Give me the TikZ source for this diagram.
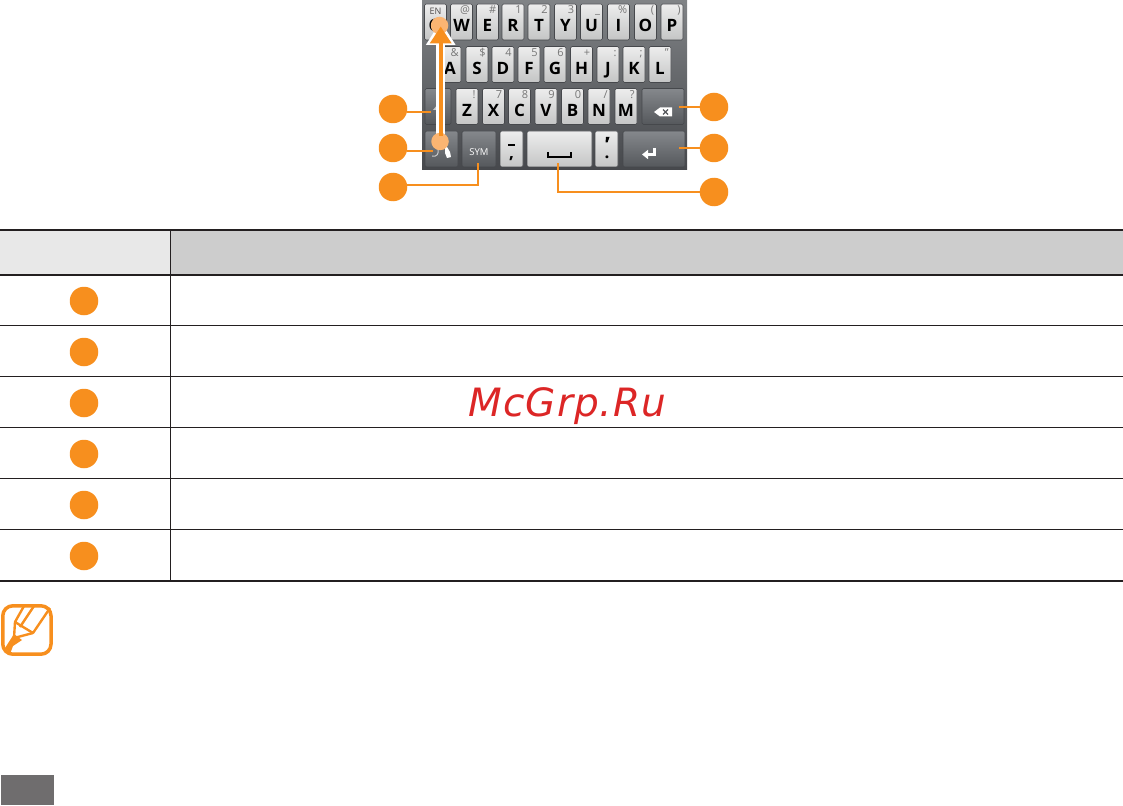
\documentclass[tikz,border=0pt]{standalone}
\usepackage{fontspec}
\setmainfont{Open Sans}
\newfontfamily\markfont[LetterSpace=2.5]{DejaVu Sans}
\usetikzlibrary{arrows.meta}
\definecolor{ORANGE}{HTML}{F78F1E}
\definecolor{PALE}{HTML}{FBB572}
\definecolor{RULE}{HTML}{231F20}
\definecolor{HEADA}{HTML}{E8E8E8}
\definecolor{HEADB}{HTML}{CDCDCD}
\definecolor{FOOT}{HTML}{6F6D6E}
\definecolor{RED}{HTML}{DC2626}
\definecolor{BOARDTOP}{HTML}{808386}
\definecolor{BOARDMID}{HTML}{5A5C60}
\definecolor{BOARDBOT}{HTML}{46484C}
\definecolor{KEYTOP}{HTML}{EDEDED}
\definecolor{KEYBOT}{HTML}{C4C5C5}
\definecolor{DARKTOP}{HTML}{85888C}
\definecolor{DARKBOT}{HTML}{55585C}
\definecolor{SUPGRAY}{HTML}{777777}
\definecolor{DIMWHITE}{HTML}{C8C9CA}
\tikzset{
    lightkey/.style={draw=BOARDBOT, line width=0.6pt, rounded corners=1.5pt, top color=KEYTOP, bottom color=KEYBOT,
        minimum width=22pt, minimum height=36pt, inner sep=0pt, text height=20pt, text depth=0pt,
        font=\bfseries\fontsize{17}{17}\selectfont, text=black},
    darkkey/.style={lightkey, top color=DARKTOP, bottom color=DARKBOT},
    keysup/.style={anchor=north east, inner sep=0pt, xshift=-2.5pt, yshift=-2pt, text height=8pt, text depth=0pt,
        font=\fontsize{11}{11}\selectfont, text=SUPGRAY},
    keymark/.style={inner sep=0pt, text=black},
    callout/.style={circle, fill=ORANGE, minimum size=28.5pt, inner sep=0pt},
    leader/.style={ORANGE, line width=2pt},
    touch/.style={circle, fill=PALE, minimum size=17.5pt, inner sep=0pt},
    tablerule/.style={RULE, line width=1.3pt},
}
\begin{document}
\begin{tikzpicture}[x=1pt, y=-1pt]
    \useasboundingbox (0,0) rectangle (1123,805);
    % keyboard
    \shade[top color=BOARDTOP, middle color=BOARDMID, bottom color=BOARDBOT] (422,0) rectangle (687,170);
    \node[lightkey] (keyQ) at (435.5,22) {Q};
    \node[lightkey, label={[keysup]north east:@}] (keyW) at (461.5,22) {W};
    \node[lightkey, label={[keysup]north east:\#}] (keyE) at (487.5,22) {E};
    \node[lightkey, label={[keysup]north east:1}] (keyR) at (513,22) {R};
    \node[lightkey, label={[keysup]north east:2}] (keyT) at (539,22) {T};
    \node[lightkey, label={[keysup]north east:3}] (keyY) at (565.5,22) {Y};
    \node[lightkey, label={[keysup]north east:\_}] (keyU) at (591.5,22) {U};
    \node[lightkey, label={[keysup]north east:\%}] (keyI) at (618.5,22) {I};
    \node[lightkey, label={[keysup]north east:(}] (keyO) at (645.5,22) {O};
    \node[lightkey, label={[keysup]north east:)}] (keyP) at (672,22) {P};
    \node[lightkey, label={[keysup]north east:\&}] (keyA) at (450,64.5) {A};
    \node[lightkey, label={[keysup]north east:\$}] (keyS) at (477,64.5) {S};
    \node[lightkey, label={[keysup]north east:4}] (keyD) at (503,64.5) {D};
    \node[lightkey, label={[keysup]north east:5}] (keyF) at (529,64.5) {F};
    \node[lightkey, label={[keysup]north east:6}] (keyG) at (555,64.5) {G};
    \node[lightkey, label={[keysup]north east:+}] (keyH) at (581.5,64.5) {H};
    \node[lightkey, label={[keysup]north east:{:}}] (keyJ) at (608,64.5) {J};
    \node[lightkey, label={[keysup]north east:;}] (keyK) at (634,64.5) {K};
    \node[lightkey, label={[keysup]north east:"}] (keyL) at (660,64.5) {L};
    \node[darkkey, minimum width=26pt] (keyShift) at (438,106.5) {};
    \node[lightkey, label={[keysup]north east:!}] (keyZ) at (467,106.5) {Z};
    \node[lightkey, label={[keysup]north east:7}] (keyX) at (493.5,106.5) {X};
    \node[lightkey, label={[keysup]north east:8}] (keyC) at (519.5,106.5) {C};
    \node[lightkey, label={[keysup]north east:9}] (keyV) at (546,106.5) {V};
    \node[lightkey, label={[keysup]north east:0}] (keyB) at (572.5,106.5) {B};
    \node[lightkey, label={[keysup]north east:/}] (keyN) at (599,106.5) {N};
    \node[lightkey, label={[keysup]north east:?}] (keyM) at (626,106.5) {M};
    \node[darkkey, minimum width=42pt] (keyBack) at (663,106.5) {};
    \node[darkkey, minimum width=33pt] (keyMic) at (441.5,149) {};
    \node[darkkey, minimum width=34pt, text=white, font=\fontsize{9.5}{10}\selectfont, text height=14pt] (keySym) at (479,149) {SYM};
    \node[lightkey, minimum width=23pt] (keySemi) at (511.5,149) {};
    \node[lightkey, minimum width=65pt] (keySpace) at (559.5,149) {};
    \node[lightkey, minimum width=23pt] (keyQuote) at (606.5,149) {};
    \node[darkkey, minimum width=62pt] (keyEnter) at (654,149) {};
    \node[inner sep=0pt, font=\fontsize{9}{9}\selectfont, text=RULE!80] (labelEN) at (435.5,11) {EN};
    \fill[black] (508,144) rectangle (515,146.5);
    \node[keymark, font=\bfseries\fontsize{17}{17}\selectfont] (semiTail) at (511.5,159) {,};
    \fill[black] (606,137) -- (609.5,137) -- (607.5,142.5) -- (605.5,142.5) -- cycle;
    \node[keymark, font=\bfseries\fontsize{17}{17}\selectfont] (quoteDot) at (607,157) {.};
    \draw[black, line width=2pt] (548,152) -- (548,157.5) -- (571,157.5) -- (571,152);
    \fill[white] (654,112) -- (660,107.5) -- (672,107.5) -- (672,116.5) -- (660,116.5) -- cycle;
    \draw[DARKBOT, line width=1.2pt] (663,109.5) -- (668,114.5) (668,109.5) -- (663,114.5);
    \draw[white, line width=3pt, -{Triangle[length=6pt, width=9pt]}] (654,148) -- (654,154.5) -- (642,154.5);
    \fill[DIMWHITE] (438,104) -- (443,110) -- (433,110) -- cycle;
    \draw[DIMWHITE, line width=1pt] (438,149) .. controls (439,154) and (437,157) .. (432,156);
    \fill[white] (445,147) -- (447,147) -- (450,152) -- (451,157) -- (447,158) -- (445,153) -- cycle;
    % leaders
    \node[callout] (numA) at (393,109) {};
    \node[callout] (numB) at (393,148) {};
    \node[callout] (numC) at (393,187) {};
    \node[callout] (numD) at (714,107) {};
    \node[callout] (numE) at (714,148) {};
    \node[callout] (numF) at (714,192) {};
    \coordinate (endA) at (431,112.5);
    \coordinate (endB) at (433,151);
    \coordinate (endC) at (477.5,163);
    \coordinate (endD) at (679,107);
    \coordinate (endE) at (679,148);
    \coordinate (endF) at (558,163);
    \draw[leader] (numA.east |- endA) -- (endA);
    \draw[leader] (numB.east |- endB) -- (endB);
    \draw[leader] (numC.east |- 0,185) -- (477.5,185) -- (endC);
    \draw[leader] (numD) -- (endD);
    \draw[leader] (numE) -- (endE);
    \draw[leader] (numF) -- (558,192) -- (endF);
    % swipe
    \coordinate (swipeLow) at (440.7,136);
    \coordinate (swipeHigh) at (440.7,21);
    \draw[white, line width=8.5pt, -{Triangle[length=24pt, width=28pt]}] (swipeLow) -- (swipeHigh);
    \node[touch] (touchHigh) at (439.5,25.5) {};
    \node[touch] (touchLow) at (440,141.5) {};
    \draw[ORANGE, line width=3.8pt, -{Triangle[length=17pt, width=21pt]}] (swipeLow) -- (440.7,26.5);
    % table
    \fill[HEADA] (0,230) rectangle (170,275);
    \fill[HEADB] (170,230) rectangle (1123,275);
    \draw[RULE, line width=2pt] (0,230) -- (1123,230);
    \draw[tablerule] (0,275) -- (1123,275);
    \draw[tablerule] (0,325.5) -- (1123,325.5);
    \draw[tablerule] (0,376.5) -- (1123,376.5);
    \draw[tablerule] (0,427.5) -- (1123,427.5);
    \draw[tablerule] (0,478.5) -- (1123,478.5);
    \draw[tablerule] (0,529.5) -- (1123,529.5);
    \draw[RULE, line width=2pt] (0,581) -- (1123,581);
    \draw[tablerule] (170.5,230) -- (170.5,581);
    \node[callout] (rowA) at (84,301) {};
    \node[callout] (rowB) at (84,352) {};
    \node[callout] (rowC) at (84,403) {};
    \node[callout] (rowD) at (84,454) {};
    \node[callout] (rowE) at (84,505) {};
    \node[callout] (rowF) at (84,556) {};
    % watermark
    \node[text=RED, inner sep=0pt, font=\markfont\itshape\fontsize{39}{39}\selectfont] (mark) at (567.5,406) {McGrp.Ru};
    % note icon
    \draw[ORANGE, line width=3.5pt, rounded corners=10pt] (2.8,605.8) rectangle (51,654.2);
    \draw[ORANGE, line width=2.4pt, line join=round] (24,606) -- (15,622) -- (33,633) -- (50,608);
    \draw[ORANGE, line width=2.4pt] (34,606) -- (20,627);
    \draw[ORANGE, line width=2.4pt, line join=round] (15,622) -- (14,638) -- (33,633);
    \fill[ORANGE] (14,634) -- (22,640) -- (13,646) -- (10,654) -- (5,648) -- cycle;
    % page number block
    \fill[FOOT] (1,775) rectangle (54,805);
\end{tikzpicture}
\end{document}
